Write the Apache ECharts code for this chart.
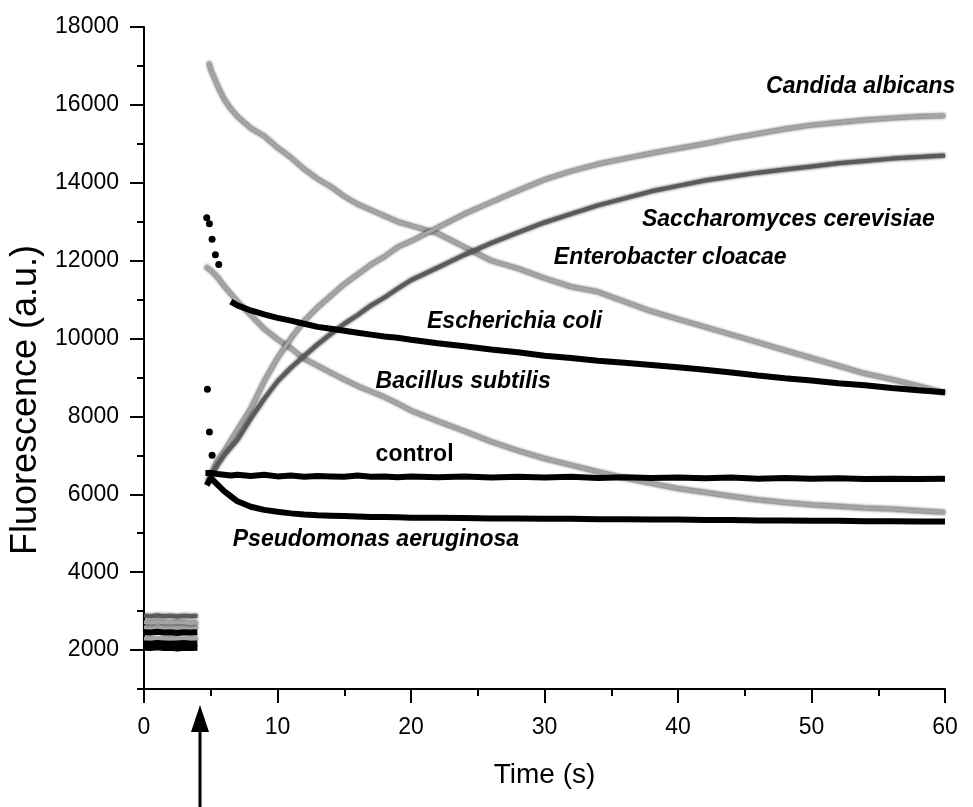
<!DOCTYPE html>
<html>
<head>
<meta charset="utf-8">
<script src="https://cdn.jsdelivr.net/npm/echarts@6/dist/echarts.min.js"></script>
<style>
  html, body { margin: 0; padding: 0; background: #fff; }
  #chart { width: 973px; height: 807px; }
</style>
</head>
<body>
<div id="chart"></div>
<script>
// time grids (s)
const tBase = [0, 0.5, 1, 1.5, 2, 2.5, 3, 3.5, 4];
const tMain = [5, 5.5, 6, 6.5, 7, 8, 9, 10, 11, 12, 13, 14, 15, 16, 17, 18, 19, 20,
  22, 24, 26, 28, 30, 32, 34, 36, 38, 40, 42, 44, 46, 48, 50, 52, 54, 56, 58, 60];

// baseline before injection (0-4 s)
const candidaBase = [2720, 2700, 2730, 2710, 2700, 2720, 2710, 2690, 2710];
const saccharoBase = [2880, 2870, 2890, 2870, 2880, 2860, 2880, 2870, 2880];
const enteroBase = [2580, 2600, 2570, 2590, 2600, 2580, 2590, 2600, 2570];
const ecoliBase = [2460, 2450, 2470, 2450, 2460, 2440, 2460, 2450, 2460];
const bacillusBase = [2290, 2300, 2280, 2290, 2300, 2290, 2280, 2300, 2290];
const controlBase = [2170, 2160, 2180, 2170, 2160, 2170, 2180, 2160, 2170];
const pseudoBase = [2060, 2050, 2070, 2050, 2060, 2040, 2060, 2050, 2060];

// first points right after injection
const candidaLead = [[4.8, 6300]];
const saccharoLead = [[4.8, 6300]];
const enteroLead = [[4.85, 17100]];
const ecoliLead = [];
const bacillusLead = [[4.6, 11850]];
const controlLead = [[4.6, 6550]];
const pseudoLead = [[4.7, 6230]];

// isolated spike dots
const ecoliSpike = [[4.7, 13100], [4.9, 12950], [5.1, 12550], [5.35, 12150], [5.6, 11900]];
const controlSpike = [[4.75, 8700], [4.9, 7600], [5.1, 7000]];

// values on tMain
const candida = [6500, 6870, 7100, 7380, 7650, 8200, 8900, 9500, 10000, 10450, 10800, 11100, 11400, 11650, 11900, 12100, 12350, 12500,
  12850, 13200, 13500, 13800, 14080, 14300, 14480, 14620, 14760, 14880, 15000, 15140, 15260, 15380, 15480, 15550, 15610, 15660, 15700, 15720];
const saccharo = [6450, 6750, 7000, 7200, 7400, 7950, 8450, 8900, 9250, 9550, 9850, 10120, 10380, 10600, 10850, 11050, 11280, 11500,
  11820, 12150, 12450, 12720, 12980, 13200, 13420, 13600, 13780, 13920, 14060, 14160, 14260, 14340, 14420, 14500, 14560, 14620, 14660, 14700];
const entero = [16900, 16500, 16150, 15900, 15700, 15400, 15200, 14900, 14650, 14350, 14100, 13900, 13650, 13450, 13300, 13150, 13000, 12900,
  12700, 12350, 12000, 11800, 11550, 11330, 11200, 10950, 10700, 10500, 10300, 10100, 9900, 9700, 9500, 9300, 9100, 8950, 8780, 8600];
const ecoli = ['-', '-', '-', 10950, 10850, 10720, 10620, 10530, 10460, 10380, 10300, 10250, 10200, 10150, 10100, 10050, 10020, 9970,
  9880, 9800, 9720, 9650, 9560, 9500, 9430, 9380, 9320, 9260, 9200, 9130, 9050, 8980, 8920, 8850, 8800, 8730, 8670, 8620];
const bacillus = [11750, 11580, 11350, 11150, 10950, 10600, 10250, 9980, 9750, 9480, 9300, 9120, 8950, 8780, 8640, 8500, 8330, 8150,
  7880, 7620, 7350, 7120, 6920, 6750, 6580, 6420, 6280, 6150, 6050, 5950, 5860, 5790, 5730, 5690, 5650, 5620, 5580, 5540];
const control = [6550, 6520, 6500, 6480, 6500, 6470, 6500, 6460, 6480, 6450, 6470, 6460, 6450, 6480, 6450, 6460, 6440, 6460,
  6440, 6460, 6430, 6450, 6430, 6450, 6420, 6440, 6420, 6430, 6410, 6430, 6400, 6420, 6400, 6410, 6390, 6400, 6390, 6400];
const pseudo = [6420, 6250, 6080, 5950, 5820, 5680, 5600, 5550, 5510, 5480, 5460, 5450, 5440, 5430, 5420, 5420, 5410, 5400,
  5400, 5390, 5380, 5380, 5370, 5370, 5360, 5360, 5350, 5350, 5340, 5340, 5330, 5330, 5320, 5320, 5310, 5310, 5300, 5300];

// curve labels: [t, value, text]
const curveLabels = [
  [46.6, 16460, 'Candida albicans'],
  [37.3, 13040, 'Saccharomyces cerevisiae'],
  [30.7, 12085, 'Enterobacter cloacae'],
  [21.2, 10440, 'Escherichia coli'],
  [17.35, 8900, 'Bacillus subtilis'],
  [6.65, 4830, 'Pseudomonas aeruginosa']
];
const plainLabels = [[17.35, 7020, 'control']];

const yMajor = [2000, 4000, 6000, 8000, 10000, 12000, 14000, 16000, 18000];

// 拼接：基线 + 断点 + 注入后的数据
const build = (base, lead, vals) => [
  ...tBase.map((t, i) => [t, base[i]]),
  [4.3, '-'],
  ...lead,
  ...tMain.map((t, i) => [t, vals[i]])
];

const font = 'Liberation Sans, Arial, sans-serif';

const grayLine = (name, data, color) => ({
  name, type: 'line', data, showSymbol: false, symbol: 'none',
  lineStyle: { color, width: 4, shadowColor: 'rgba(0,0,0,0.9)', shadowBlur: 3 },
  z: 2
});
const blackLine = (name, data) => ({
  name, type: 'line', data, showSymbol: false, symbol: 'none',
  lineStyle: { color: '#000', width: 6 },
  z: 3
});
const textLayer = (data, italic) => ({
  type: 'scatter', data, symbolSize: 0, z: 5, silent: true,
  itemStyle: { opacity: 1 },
  label: {
    show: true, position: 'right', distance: 0, formatter: p => p.data[2],
    fontSize: 23, fontStyle: italic ? 'italic' : 'normal', fontWeight: 'bold',
    fontFamily: font, color: '#000'
  }
});

const chart = echarts.init(document.getElementById('chart'));
chart.setOption({
  animation: false,
  backgroundColor: '#fff',
  grid: { left: 143, right: 28, top: 27, bottom: 118 },
  xAxis: {
    type: 'value', min: 0, max: 60, interval: 10,
    name: 'Time (s)', nameLocation: 'middle', nameGap: 72,
    nameTextStyle: { fontSize: 28, fontFamily: font, color: '#000' },
    axisLine: { lineStyle: { color: '#000', width: 2 } },
    axisTick: { length: 14, lineStyle: { color: '#000', width: 2 } },
    minorTick: { show: true, splitNumber: 2, length: 7, lineStyle: { color: '#000', width: 2 } },
    axisLabel: { fontSize: 23, fontFamily: font, color: '#000', margin: 27 },
    splitLine: { show: false }
  },
  yAxis: [{
    type: 'value', min: 1000, max: 18000,
    name: 'Fluorescence (a.u.)', nameLocation: 'middle', nameGap: 100,
    nameTextStyle: { fontSize: 36, fontFamily: font, color: '#000', padding: [0, 84, 0, 0] },
    axisLine: { lineStyle: { color: '#000', width: 2 } },
    axisTick: { customValues: yMajor, length: 14, lineStyle: { color: '#000', width: 2 } },
    axisLabel: {
      customValues: yMajor, formatter: v => String(v),
      fontSize: 23, fontFamily: font, color: '#000', margin: 25
    },
    splitLine: { show: false }
  }, {
    type: 'value', min: 1000, max: 18000, interval: 1000, position: 'left',
    axisLine: { show: false },
    axisTick: { length: 7, lineStyle: { color: '#000', width: 2 } },
    axisLabel: { show: false },
    splitLine: { show: false }
  }],
  series: [
    grayLine('Enterobacter cloacae', build(enteroBase, enteroLead, entero), '#a4a4a4'),
    grayLine('Bacillus subtilis', build(bacillusBase, bacillusLead, bacillus), '#a4a4a4'),
    grayLine('Candida albicans', build(candidaBase, candidaLead, candida), '#a4a4a4'),
    grayLine('Saccharomyces cerevisiae', build(saccharoBase, saccharoLead, saccharo), '#5a5a5a'),
    blackLine('Escherichia coli', build(ecoliBase, ecoliLead, ecoli)),
    blackLine('control', build(controlBase, controlLead, control)),
    blackLine('Pseudomonas aeruginosa', build(pseudoBase, pseudoLead, pseudo)),
    { type: 'scatter', data: ecoliSpike, symbolSize: 7, itemStyle: { color: '#000', opacity: 1 }, z: 4 },
    { type: 'scatter', data: controlSpike, symbolSize: 7, itemStyle: { color: '#000', opacity: 1 }, z: 4 },
    textLayer(curveLabels, true),
    textLayer(plainLabels, false)
  ],
  // injection arrow below the axis
  graphic: [
    { type: 'line', shape: { x1: 200, y1: 728, x2: 200, y2: 807 }, style: { stroke: '#000', lineWidth: 3 } },
    { type: 'polygon', shape: { points: [[200, 705], [191, 732], [209, 732]] }, style: { fill: '#000' } }
  ]
});
</script>
</body>
</html>
